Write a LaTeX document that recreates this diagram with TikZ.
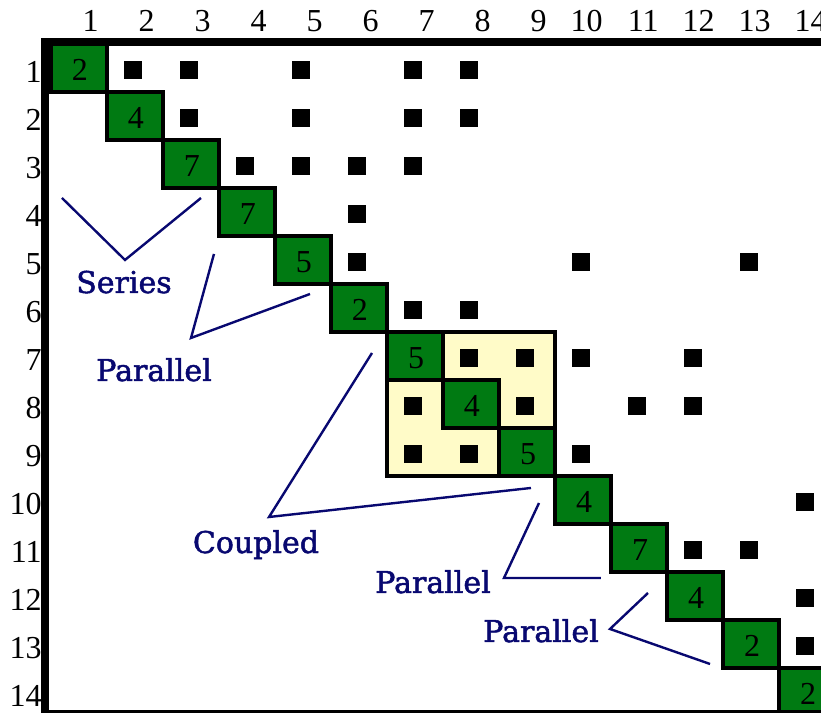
\documentclass[tikz,border=0pt]{standalone}
\usepackage{fontspec}
\setmainfont{Liberation Serif}
\newfontfamily\tagfont[FakeBold=1.6]{DejaVu Serif}
\usepackage{tikz}
\definecolor{blockgreen}{RGB}{0,122,18}
\definecolor{coupledyellow}{RGB}{255,251,200}
\definecolor{tagnavy}{RGB}{8,8,112}

\begin{document}
\begin{tikzpicture}[x=28pt,y=-24pt,
	entry/.style={fill=black,inner sep=0pt,minimum size=9.3pt},
	pivot/.style={inner sep=0pt,font=\fontsize{16}{16}\selectfont},
	index/.style={anchor=east,inner sep=0pt,font=\fontsize{16}{16}\selectfont},
	cellrim/.style={line width=2.1pt,shift={(1pt,1pt)}},
	tag/.style={anchor=base,text=tagnavy,font=\tagfont\fontsize{15}{15}\selectfont},
	lead/.style={draw=tagnavy,line width=1.2pt}]
	\useasboundingbox (-0.875,-0.958) rectangle (13.786,13.896);
	\fill[coupledyellow] (6,6) rectangle (9,9);
	\draw[cellrim] (6,6) rectangle (9,9);
	\foreach \k in {1,...,14}
		\fill[blockgreen] (\k-1,\k-1) rectangle (\k,\k);
	\foreach \k in {1,...,14}
		\draw[cellrim] (\k-1,\k-1) rectangle (\k,\k);
	\foreach \k/\v in {1/2,2/4,3/7,4/7,5/5,6/2,7/5,8/4,9/5,10/4,11/7,12/4,13/2,14/2}
		\node[pivot,xshift=1.5pt] (p\k) at (\k-0.5,\k-0.5) {\v};
	\foreach \r/\c in {1/2,1/3,1/5,1/7,1/8,2/3,2/5,2/7,2/8,3/4,3/5,3/6,3/7,4/6,
		5/6,5/10,5/13,6/7,6/8,7/8,7/9,7/10,7/12,8/7,8/9,8/11,8/12,9/7,9/8,9/10,
		10/14,11/12,11/13,12/14,13/14}
		\node[entry] (e\r-\c) at (\c-0.5,\r-0.5) {};
	\foreach \c in {1,...,14}
		\node[index] (col\c) at (\c-0.107,-0.52) {\c};
	\foreach \r in {1,...,14}
		\node[index] (row\r) at (-0.125,\r-0.46) {\r};
	\draw[line width=4pt] (-0.071,-0.083) rectangle (14.4,13.917);

	\node[tag] (series) at (1.339,5.146) {Series};
	\coordinate (s1) at (0.232,3.167);
	\coordinate (s2) at (1.357,4.458);
	\coordinate (s3) at (2.714,3.167);
	\draw[lead] (s1) -- (s2) -- (s3);

	\node[tag] (par1) at (1.875,6.979) {Parallel};
	\coordinate (a1) at (2.946,4.333);
	\coordinate (a2) at (2.536,6.083);
	\coordinate (a3) at (4.661,5.167);
	\draw[lead] (a1) -- (a2) -- (a3);

	\node[tag] (coupled) at (3.696,10.563) {Coupled};
	\coordinate (c1) at (5.768,6.396);
	\coordinate (c2) at (3.929,9.813);
	\coordinate (c3) at (8.607,9.208);
	\draw[lead] (c1) -- (c2) -- (c3);

	\node[tag] (par2) at (6.857,11.396) {Parallel};
	\coordinate (b1) at (8.75,9.521);
	\coordinate (b2) at (8.125,11.083);
	\coordinate (b3) at (9.857,11.083);
	\draw[lead] (b1) -- (b2) -- (b3);

	\node[tag] (par3) at (8.786,12.417) {Parallel};
	\coordinate (d1) at (10.696,11.396);
	\coordinate (d2) at (10.018,12.146);
	\coordinate (d3) at (11.804,12.875);
	\draw[lead] (d1) -- (d2) -- (d3);
\end{tikzpicture}
\end{document}
